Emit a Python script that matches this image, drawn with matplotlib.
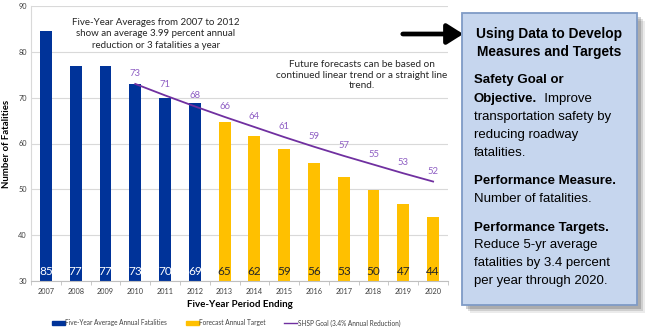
import matplotlib.pyplot as plt
from matplotlib.patches import Rectangle, FancyArrowPatch
from matplotlib.lines import Line2D
import numpy as np

years = ['2007', '2008', '2009', '2010', '2011', '2012', '2013',
         '2014', '2015', '2016', '2017', '2018', '2019', '2020']
avg_fatal = [84.6, 77, 77, 73, 70, 68.8]
avg_labels = ['85', '77', '77', '73', '70', '69']
forecast = [64.7, 61.7, 58.7, 55.8, 52.8, 49.8, 46.8, 43.9]
forecast_labels = ['65', '62', '59', '56', '53', '50', '47', '44']
goal = [73, 70.5, 68.1, 65.8, 63.6, 61.4, 59.3, 57.3, 55.4, 53.5, 51.7]
goal_labels = ['73', '71', '68', '66', '64', '61', '59', '57', '55', '53', '52']

BLUE = '#003399'
GOLD = '#FFC000'
PURPLE = '#7030A0'
LPURPLE = '#8F5FC4'

plt.rcParams['font.family'] = ['Lato', 'DejaVu Sans']
box_font = ['Liberation Sans', 'DejaVu Sans']

W, H = 650, 333
def fx(x): return x / W
def fy(y): return 1 - y / H

fig = plt.figure(figsize=(6.5, 3.33), dpi=100)
ax = fig.add_axes([fx(31), fy(281), fx(448) - fx(31), fy(6) - fy(281)])

x = np.arange(len(years))
n_avg = len(avg_fatal)
ax.bar(x[:n_avg], np.array(avg_fatal) - 30, bottom=30, width=0.4, color=BLUE, zorder=2)
ax.bar(x[n_avg:], np.array(forecast) - 30, bottom=30, width=0.4, color=GOLD, zorder=2)
gx = x[3:]
ax.plot(gx, goal, color=PURPLE, lw=1.3, zorder=3)

for i, lab in enumerate(avg_labels):
    ax.annotate(lab, (x[i], 30), xytext=(0, 6.5), textcoords='offset points',
                ha='center', va='center', color='white', fontsize=8.5)
for i, lab in enumerate(forecast_labels):
    ax.annotate(lab, (x[n_avg + i], 30), xytext=(0, 6.5), textcoords='offset points',
                ha='center', va='center', color='#262626', fontsize=8.5)
for xi, v, lab in zip(gx, goal, goal_labels):
    ax.annotate(lab, (xi, v), xytext=(0, 7.5), textcoords='offset points',
                ha='center', va='center', color=LPURPLE, fontsize=6.8)

ax.set_xlim(-0.5, len(years) - 0.5)
ax.set_ylim(30, 90)
ax.set_yticks([30, 40, 50, 60, 70, 80, 90])
ax.yaxis.grid(True, color='#D9D9D9', lw=0.8, zorder=0)
ax.set_axisbelow(True)
ax.set_xticks(x)
ax.set_xticklabels(years)
ax.set_xticks(np.arange(-0.5, len(years), 1), minor=True)
ax.tick_params(axis='x', which='major', length=0, labelsize=5.3, colors='#404040', pad=5)
ax.tick_params(axis='x', which='minor', length=3, color='#BFBFBF')
ax.tick_params(axis='y', length=0, labelsize=5.3, colors='#404040', pad=3)
for s in ['top', 'right']:
    ax.spines[s].set_visible(False)
ax.spines['left'].set_color('#D9D9D9')
ax.spines['bottom'].set_color('#BFBFBF')

ax.set_xlabel('Five-Year Period Ending', fontsize=7.0, fontweight='bold', labelpad=3.5)
ax.set_ylabel('Number of Fatalities', fontsize=6.9, fontweight='bold', labelpad=5)

fig.text(fx(156), fy(34), 'Five-Year Averages from 2007 to 2012\nshow an average 3.99 percent annual\nreduction or 3 fatalities a year',
         ha='center', va='center', fontsize=7.0, color='#262626', linespacing=1.35)
fig.text(fx(362), fy(75), 'Future forecasts can be based on\ncontinued linear trend or a straight line\ntrend.',
         ha='center', va='center', fontsize=7.2, color='#262626', linespacing=1.2)

handles = [Rectangle((0, 0), 1, 1, color=BLUE), Rectangle((0, 0), 1, 1, color=GOLD),
           Line2D([], [], color=PURPLE, lw=1)]
fig.legend(handles, ['Five-Year Average Annual Fatalities', 'Forecast Annual Target',
                     'SHSP Goal (3.4% Annual Reduction)'],
           loc='center', bbox_to_anchor=(fx(226), fy(323)), ncol=3, frameon=False,
           fontsize=4.7, handlelength=2.0, handleheight=0.5, columnspacing=2.8,
           handletextpad=0.1, labelcolor='#404040')

# arrow
fig.add_artist(FancyArrowPatch(
    (fx(400), fy(34)), (fx(466), fy(34)), transform=fig.transFigure,
    arrowstyle='-|>,head_length=6,head_width=3.8', lw=3.4, color='black', mutation_scale=1.6))

# side box with shadow
bx0, by0, bx1, by1 = 462, 13, 637, 305
for k, a in [(8, 0.10), (6, 0.16), (4, 0.24)]:
    fig.add_artist(Rectangle((fx(bx0 + k), fy(by1 + k)), fx(bx1 - bx0), fy(by0) - fy(by1),
                             transform=fig.transFigure, color='#404040', alpha=a, lw=0))
fig.add_artist(Rectangle((fx(bx0), fy(by1)), fx(bx1 - bx0), fy(by0) - fy(by1),
                         transform=fig.transFigure, facecolor='#C6D6EE', edgecolor='#7F9BC6', lw=1.3))

tf = dict(family=box_font, color='black', va='center')
fig.text(fx(549), fy(34), 'Using Data to Develop', ha='center', fontweight='bold', fontsize=9.9, **tf)
fig.text(fx(549), fy(52), 'Measures and Targets', ha='center', fontweight='bold', fontsize=9.9, **tf)

bfs = 9.5
lx = fx(474)
fig.text(lx, fy(80), 'Safety Goal or', ha='left', fontweight='bold', fontsize=bfs, **tf)
t = fig.text(lx, fy(99), 'Objective.', ha='left', fontweight='bold', fontsize=bfs, **tf)
r = fig.canvas.get_renderer()
ext = t.get_window_extent(r)
fig.text(ext.x1 / W, fy(99), '  Improve', ha='left', fontsize=bfs, **tf)
for yy, s in [(117, 'transportation safety by'), (135, 'reducing roadway'), (153, 'fatalities.')]:
    fig.text(lx, fy(yy), s, ha='left', fontsize=bfs, **tf)
fig.text(lx, fy(181), 'Performance Measure.', ha='left', fontweight='bold', fontsize=bfs, **tf)
fig.text(lx, fy(199), 'Number of fatalities.', ha='left', fontsize=bfs, **tf)
fig.text(lx, fy(228), 'Performance Targets.', ha='left', fontweight='bold', fontsize=bfs, **tf)
for yy, s in [(245, 'Reduce 5-yr average'), (263, 'fatalities by 3.4 percent'),
              (281, 'per year through 2020.')]:
    fig.text(lx, fy(yy), s, ha='left', fontsize=bfs, **tf)

fig.savefig('out.png', dpi=100)
